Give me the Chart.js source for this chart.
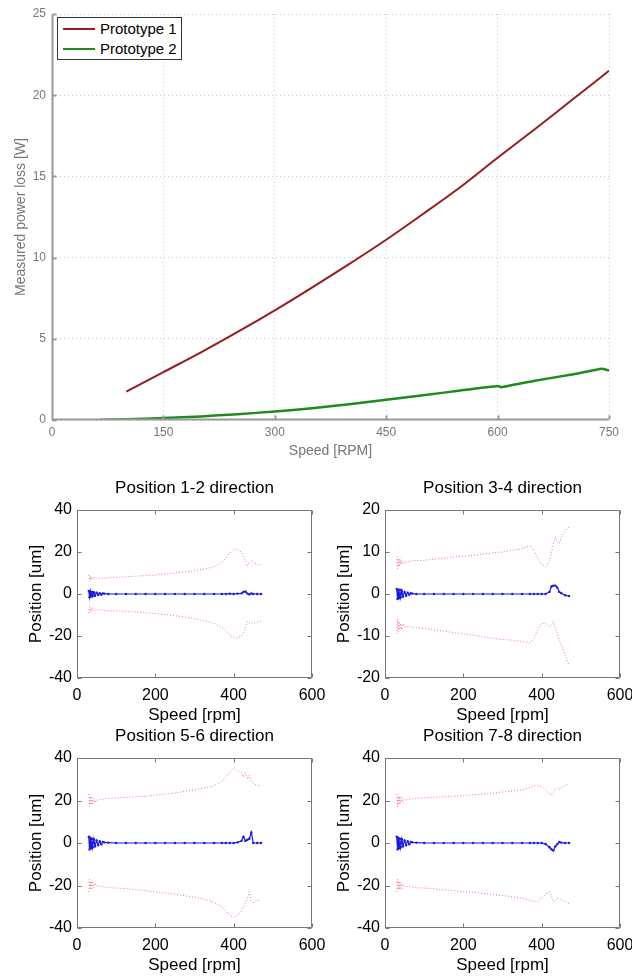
<!DOCTYPE html>
<html>
<head>
<meta charset="utf-8">
<script src="https://cdn.jsdelivr.net/npm/chart.js@4/dist/chart.umd.min.js"></script>
<style>
  html, body { margin: 0; padding: 0; background: #fff; overflow: hidden; }
  body { width: 632px; height: 976px; position: relative; font-family: "Liberation Sans", Arial, sans-serif; }
  .box { position: absolute; }
  #legend { position: absolute; left: 57px; top: 17px; width: 123px; height: 40px; border: 1px solid #333;
            background: #fff; font-size: 15px; color: #000; padding-top: 1px; }
  #legend div { height: 20px; line-height: 20px; white-space: nowrap; }
  #legend span { display: inline-block; width: 32px; height: 0; border-top: 2px solid; vertical-align: middle;
                 margin: 0 5px 0 5px; position: relative; top: -1px; }
</style>
</head>
<body>
<div class="box" style="left:0;top:0;width:632px;height:460px"><canvas id="loss"></canvas></div>
<div id="legend"></div>
<div class="box" style="left:0;top:470px;width:340px;height:256px"><canvas id="p12"></canvas></div>
<div class="box" style="left:308px;top:470px;width:340px;height:256px"><canvas id="p34"></canvas></div>
<div class="box" style="left:0;top:720px;width:340px;height:256px"><canvas id="p56"></canvas></div>
<div class="box" style="left:308px;top:720px;width:340px;height:256px"><canvas id="p78"></canvas></div>
<script>
// power loss vs speed
const rpm1 = [100, 150, 200, 250, 300, 350, 400, 450, 500, 550, 600, 650, 700, 750];
const loss1 = [1.75, 2.95, 4.15, 5.42, 6.75, 8.15, 9.6, 11.1, 12.7, 14.35, 16.15, 17.9, 19.7, 21.5];
const rpm2 = [65, 100, 150, 200, 250, 300, 350, 400, 450, 500, 550, 600, 605, 650, 700, 740, 750];
const loss2 = [0.02, 0.05, 0.12, 0.22, 0.36, 0.52, 0.72, 0.97, 1.25, 1.52, 1.82, 2.1, 2.02, 2.42, 2.8, 3.15, 3.05];

// position orbits, shared speed axis
const spd = [30, 32, 34, 36, 38, 40, 43, 46, 50, 54, 58, 62, 66, 70, 80, 100, 125, 150, 175, 200,
             225, 250, 275, 300, 325, 350, 370, 380, 390, 400, 410, 420, 425, 430, 435, 440, 445, 450, 460, 470];

const p12Upper = [9, 6, 8.5, 6.5, 8, 7, 8, 7, 7.5, 7.5, 7.5, 7.5, 7.5, 7.5, 7.8, 8, 8.2, 8.5, 8.8, 9,
                  9.5, 10, 10.5, 11, 11.8, 13, 15, 17, 19.5, 21.5, 21, 20, 18, 16, 13, 15, 16, 15, 14, 14];
const p12Lower = [-9, -6, -8.5, -6.5, -8, -7, -8, -7, -7.5, -7.5, -7.5, -7.5, -7.5, -7.8, -8, -8, -8.3, -8.6, -9, -9.3,
                  -9.8, -10.3, -11, -11.8, -12.8, -14, -16, -17.5, -19.5, -21, -21, -20, -18.5, -16, -13, -14, -13.5, -14, -13.5, -13];
const p12Center = [1.5, -1.5, 1.2, -1.2, 1, -1, 0.8, -0.8, 0.6, -0.5, 0.4, -0.3, 0.3, 0.2, 0, 0, 0, 0, 0, 0,
                   0, 0, 0, 0, 0, 0, 0, 0, 0.2, 0, 0.2, 0.3, 1, 1.2, 0.2, -0.2, 0.3, 0, 0, 0];

const p34Upper = [9, 6, 8.5, 6.5, 8.5, 7, 8, 7, 7.8, 7.6, 7.8, 7.8, 7.8, 7.9, 8, 8, 8.3, 8.5, 8.8, 9,
                  9.2, 9.5, 9.8, 10, 10.4, 10.8, 11.5, 10.5, 8.5, 7, 6.5, 8, 10, 12, 13.5, 12.5, 12, 13.5, 15, 16];
const p34Lower = [-9.5, -6, -9, -6.5, -8.5, -7, -8.5, -7, -7.8, -7.8, -7.8, -7.8, -7.8, -8, -8, -8.2, -8.5, -8.8, -9.2, -9.5,
                  -9.8, -10.2, -10.6, -10.8, -11, -11.3, -11.6, -10.5, -8.5, -7, -7, -7.8, -7.5, -6.5, -8, -9.5, -11, -12, -14.5, -17];
const p34Center = [1.2, -1.2, 1, -1, 1, -0.8, 0.8, -0.6, 0.5, -0.4, 0.3, -0.2, 0.2, 0.1, 0, 0, 0, 0, 0, 0,
                   0, 0, 0, 0, 0, 0, 0, 0, 0, 0, 0, 0.5, 1.8, 2, 2, 1.5, 0.5, 0.2, -0.3, -0.5];

const p56Upper = [23, 17, 22, 18, 21.5, 18.5, 21, 19, 20.5, 20, 20.5, 20.5, 20.5, 20.8, 21, 21.2, 21.5, 21.8, 22, 22.5,
                  23, 23.5, 24.3, 25, 26, 27, 29, 31, 33, 35, 34, 33, 31, 33, 30, 32, 29, 28, 27, 27];
const p56Lower = [-23, -17, -22, -18, -21.5, -18.5, -21, -19, -20.5, -20, -20.5, -20.5, -20.5, -20.8, -21, -21.2, -21.5, -22, -22.5, -23,
                  -23.5, -24, -24.8, -25.5, -26.5, -28, -30, -32, -34, -35, -34, -32, -30, -28, -26, -23, -27, -28, -27, -27];
const p56Center = [3, -3, 2.5, -2.5, 2, -2, 1.8, -1.5, 1.2, -1, 0.8, -0.6, 0.5, 0.3, 0.2, 0, 0, 0, 0, 0,
                   0, 0, 0, 0, 0, 0, 0, 0, 0, 0, 0.3, 1, 3, 1, 1.5, 2, 5, 0, 0, 0];

const p78Upper = [23, 17, 22, 18, 22, 18.5, 21.5, 19, 20.5, 20, 20.5, 20.5, 20.5, 20.8, 21, 21.2, 21.5, 21.8, 22, 22.3,
                  22.7, 23, 23.5, 24, 24.5, 25, 26, 27, 27, 26.5, 25, 23, 22.5, 24, 25, 26, 25, 26, 27, 28];
const p78Lower = [-23, -17, -22, -18, -22, -18.5, -21.5, -19, -20.5, -20, -20.5, -20.5, -20.5, -20.8, -21, -21.2, -21.6, -22, -22.4, -22.8,
                  -23.2, -23.7, -24.2, -24.7, -25.3, -26, -27, -27.5, -27.5, -26, -24, -23, -25, -28, -27, -26, -26, -27, -27.5, -28.5];
const p78Center = [3, -3, 2.5, -2.5, 2, -2, 1.8, -1.5, 1.2, -1, 0.8, -0.6, 0.5, 0.3, 0.2, 0, 0, 0, 0, 0,
                   0, 0, 0, 0, 0, 0, 0, 0, 0, 0, -0.5, -2, -3, -3.5, -1.5, -0.5, 0.5, 0.2, 0, 0];

Chart.defaults.font.family = '"Liberation Sans", Arial, sans-serif';
Chart.defaults.animation = false;

const pts = (xs, ys) => xs.map((x, i) => ({ x: x, y: ys[i] }));

// axis lines, inward tick marks, title above the box
const frame = {
  id: 'frame',
  afterDraw(chart, args, opts) {
    const { ctx, chartArea: a, scales } = chart;
    const L = Math.round(a.left) + 0.5, R = Math.round(a.right) - 0.5;
    const T = Math.round(a.top) + 0.5, B = Math.round(a.bottom) - 0.5;
    const full = opts.full;
    ctx.save();
    ctx.strokeStyle = opts.color;
    ctx.lineWidth = opts.width;
    ctx.beginPath();
    if (full) {
      ctx.rect(L, T, R - L, B - T);
    } else {
      ctx.moveTo(L, T); ctx.lineTo(L, B); ctx.lineTo(R, B);
    }
    scales.x.ticks.forEach(t => {
      const px = Math.round(scales.x.getPixelForValue(t.value)) + 0.5;
      ctx.moveTo(px, B); ctx.lineTo(px, B - opts.tick);
      if (full) { ctx.moveTo(px, T); ctx.lineTo(px, T + opts.tick); }
    });
    scales.y.ticks.forEach(t => {
      const py = Math.round(scales.y.getPixelForValue(t.value)) + 0.5;
      ctx.moveTo(L, py); ctx.lineTo(L + opts.tick, py);
      if (full) { ctx.moveTo(R, py); ctx.lineTo(R - opts.tick, py); }
    });
    ctx.stroke();
    if (opts.title) {
      ctx.fillStyle = '#000';
      ctx.font = '17px "Liberation Sans", Arial, sans-serif';
      ctx.textAlign = 'center';
      ctx.textBaseline = 'middle';
      ctx.fillText(opts.title, (a.left + a.right) / 2, a.top - 22);
    }
    ctx.restore();
  }
};
Chart.register(frame);

const lossChart = new Chart(document.getElementById('loss'), {
  type: 'line',
  data: {
    datasets: [
      { label: 'Prototype 1', data: pts(rpm1, loss1), borderColor: '#951c1f', borderWidth: 2, pointRadius: 0, tension: 0.3 },
      { label: 'Prototype 2', data: pts(rpm2, loss2), borderColor: '#1f8a1f', borderWidth: 2.5, pointRadius: 0, tension: 0.1 }
    ]
  },
  options: {
    responsive: true,
    maintainAspectRatio: false,
    layout: { padding: { top: 14, right: 23, left: 0, bottom: 0 } },
    plugins: {
      legend: { display: false },
      tooltip: { enabled: false },
      frame: { color: '#9a9a9a', width: 2, tick: 4, full: false }
    },
    scales: {
      x: {
        type: 'linear', min: 0, max: 750,
        ticks: { stepSize: 150, color: '#777', font: { size: 12 }, padding: 5, maxRotation: 0 },
        grid: { color: '#c8c8c8', drawTicks: false },
        border: { display: false, dash: [1, 3] },
        title: { display: true, text: 'Speed [RPM]', color: '#777', font: { size: 14 }, padding: { top: 4, bottom: 0 } },
        afterFit: s => { s.height = 40; }
      },
      y: {
        min: 0, max: 25,
        ticks: { stepSize: 5, color: '#777', font: { size: 12 }, padding: 6 },
        grid: { color: '#c8c8c8', drawTicks: false },
        border: { display: false, dash: [1, 3] },
        title: { display: true, text: 'Measured power loss [W]', color: '#777', font: { size: 14 }, padding: { top: 13, bottom: 0 } },
        afterFit: s => { s.width = 52; }
      }
    }
  }
});

// legend box inside the plot, built from the datasets
document.getElementById('legend').innerHTML = lossChart.data.datasets
  .map(d => '<div><span style="border-color:' + d.borderColor + '"></span>' + d.label + '</div>').join('');

function orbitChart(id, title, upper, lower, center, lim, padTop) {
  const red = { borderColor: 'rgba(225,80,80,0.75)', borderWidth: 1, borderDash: [1, 2], pointRadius: 0 };
  return new Chart(document.getElementById(id), {
    type: 'line',
    data: {
      datasets: [
        Object.assign({ label: 'upper', data: pts(spd, upper) }, red),
        Object.assign({ label: 'lower', data: pts(spd, lower) }, red),
        { label: 'center', data: pts(spd, center), borderColor: '#1a1ae0', borderWidth: 1.2,
          pointRadius: 1.2, pointBackgroundColor: '#1a1ae0', pointBorderWidth: 0 }
      ]
    },
    options: {
      responsive: true,
      maintainAspectRatio: false,
      layout: { padding: { top: padTop, right: 28, left: 0, bottom: 0 } },
      plugins: {
        legend: { display: false },
        tooltip: { enabled: false },
        frame: { color: '#777', width: 1, tick: 4, full: true, title: title }
      },
      scales: {
        x: {
          type: 'linear', min: 0, max: 600,
          ticks: { stepSize: 200, color: '#000', font: { size: 16 }, padding: 8, maxRotation: 0 },
          grid: { display: false, drawTicks: false },
          border: { display: false },
          title: { display: true, text: 'Speed [rpm]', color: '#000', font: { size: 17 }, padding: { top: 1, bottom: 0 } },
          afterFit: s => { s.height = 48; }
        },
        y: {
          min: -lim, max: lim,
          ticks: { stepSize: lim / 2, color: '#000', font: { size: 16 }, padding: 5 },
          grid: { display: false, drawTicks: false },
          border: { display: false },
          title: { display: true, text: 'Position [um]', color: '#000', font: { size: 17 }, padding: { top: 26, bottom: 0 } },
          afterFit: s => { s.width = 77; }
        }
      }
    }
  });
}

orbitChart('p12', 'Position 1-2 direction', p12Upper, p12Lower, p12Center, 40, 40);
orbitChart('p34', 'Position 3-4 direction', p34Upper, p34Lower, p34Center, 20, 40);
orbitChart('p56', 'Position 5-6 direction', p56Upper, p56Lower, p56Center, 40, 38);
orbitChart('p78', 'Position 7-8 direction', p78Upper, p78Lower, p78Center, 40, 38);
</script>
</body>
</html>
